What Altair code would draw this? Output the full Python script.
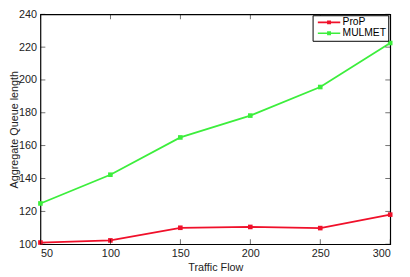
import altair as alt
import pandas as pd

traffic = [50, 100, 150, 200, 250, 300]
prop = [101.0, 102.3, 110.0, 110.5, 109.8, 118.0]
mulmet = [124.8, 142.3, 165.0, 178.3, 195.7, 222.5]
series_names = ["ProP", "MULMET"]
series_colors = ["#f0102a", "#3cee3c"]
x_ticks = [50, 100, 150, 200, 250, 300]
y_ticks = [100, 120, 140, 160, 180, 200, 220, 240]

rows = []
for name, vals in zip(series_names, [prop, mulmet]):
    for t, v in zip(traffic, vals):
        rows.append({"flow": t, "queue": v, "series": name})
df = pd.DataFrame(rows)

FONT = "Liberation Sans"
W, H = 356, 234

xs = alt.Scale(domain=[50, 300], nice=False, zero=False)
ys = alt.Scale(domain=[100, 240], nice=False, zero=False)

x_axis = alt.Axis(values=x_ticks, title="Traffic  Flow", tickSize=0,
                  labelPadding=4, titlePadding=3, domain=False,
                  grid=False, format="d", labelOverlap=False)
y_axis = alt.Axis(values=y_ticks, title="Aggregate Queue length",
                  tickSize=0, labelPadding=4, domain=False, grid=False,
                  format="d", labelOverlap=False, labelBound=False,
                  titleX=-26, titleY=H / 2, titleAngle=270,
                  titleBaseline="middle", titleAlign="center")

legend = alt.Legend(
    title=None, orient="none", legendX=277, legendY=1,
    strokeColor="#000000", fillColor="#ffffff", padding=2,
    symbolType="M-5.1,-0.36H5.1V0.36H-5.1ZM-0.9,-0.9H0.9V0.9H-0.9Z",
    symbolSize=20, symbolStrokeWidth=0,
    labelFont=FONT, labelFontSize=10.5, labelColor="#000000",
    rowPadding=-1, labelOffset=8.5, symbolOffset=9.5,
)
color = alt.Color(
    "series:N",
    scale=alt.Scale(domain=series_names, range=series_colors),
    sort=series_names, legend=legend,
)

x_enc = alt.X("flow:Q", scale=xs, axis=x_axis)
y_enc = alt.Y("queue:Q", scale=ys, axis=y_axis)

base = alt.Chart(df)
lines = base.mark_line(strokeWidth=1.8).encode(x=x_enc, y=y_enc, color=color)
points = base.mark_square(size=22, opacity=1, filled=True).encode(
    x=x_enc, y=y_enc, color=color)

tx = pd.DataFrame({"v": x_ticks})
ty = pd.DataFrame({"v": y_ticks})
tick_kw = dict(size=5, thickness=0.8, color="#000")
tick_bottom = alt.Chart(tx).mark_tick(orient="vertical", yOffset=-2.5, **tick_kw).encode(
    x=alt.X("v:Q", scale=xs, axis=x_axis), y=alt.datum(100, scale=ys, axis=y_axis))
tick_top = alt.Chart(tx).mark_tick(orient="vertical", yOffset=2.5, **tick_kw).encode(
    x=alt.X("v:Q", scale=xs, axis=x_axis), y=alt.datum(240, scale=ys, axis=y_axis))
tick_left = alt.Chart(ty).mark_tick(orient="horizontal", xOffset=2.5, **tick_kw).encode(
    y=alt.Y("v:Q", scale=ys, axis=y_axis), x=alt.datum(50, scale=xs, axis=x_axis))
tick_right = alt.Chart(ty).mark_tick(orient="horizontal", xOffset=-2.5, **tick_kw).encode(
    y=alt.Y("v:Q", scale=ys, axis=y_axis), x=alt.datum(300, scale=xs, axis=x_axis))

chart = alt.layer(lines, points, tick_bottom, tick_top, tick_left, tick_right).properties(
    width=W, height=H,
    background="#ffffff",
    autosize=alt.AutoSizeParams(type="none"),
    padding={"left": 33, "top": 4, "right": 12, "bottom": 30},
).configure_view(
    stroke="#000000", strokeWidth=1.2
).configure_axis(
    labelFont=FONT, labelFontSize=11, labelColor="#222222",
    titleFont=FONT, titleFontSize=11, titleFontWeight="normal", titleColor="#222222",
)

chart.save("out.html", embed_options={"renderer": "svg", "actions": False})
